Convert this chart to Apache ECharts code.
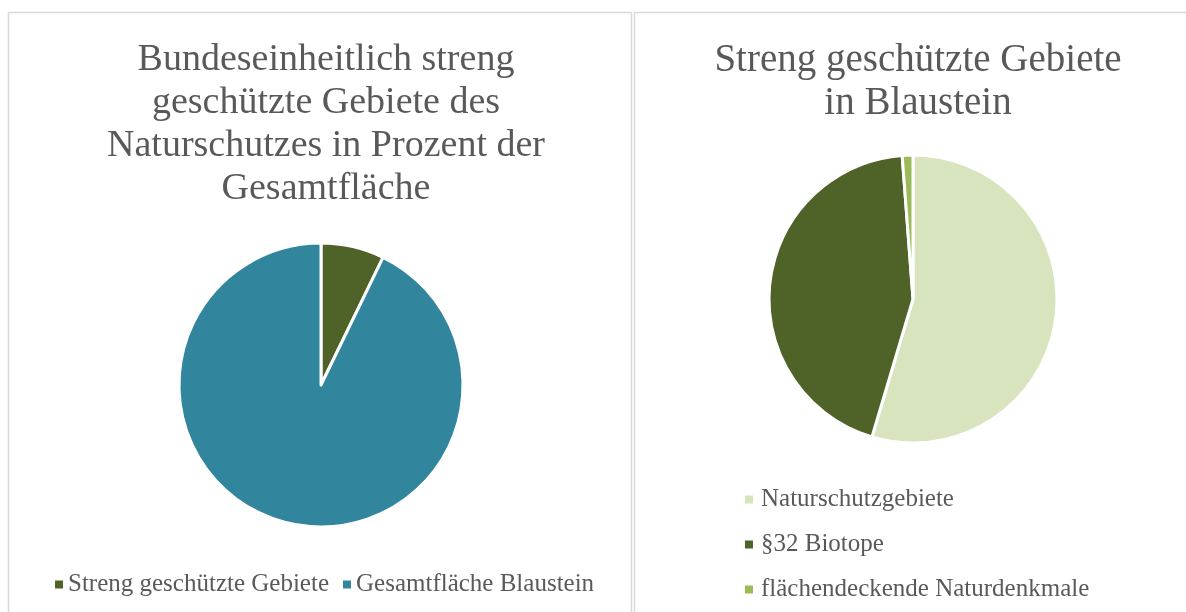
<!doctype html>
<html>
    <head>
        <meta charset="utf-8">
        <title>Streng geschützte Gebiete - Blaustein</title>
        <style>
            html, body { margin: 0; padding: 0; background: #fff; }
            #main { width: 1186px; height: 612px; }
        </style>
    </head>
    <body>
        <div id="main"></div>
        <script src="https://cdn.jsdelivr.net/npm/echarts@6/dist/echarts.min.js"></script>
        <script>
            // Anteile in Prozent
            var leftNames = ['Streng geschützte Gebiete', 'Gesamtfläche Blaustein'];
            var leftValues = [7.2, 92.8];
            var leftColors = ['#4f6228', '#31859c'];

            var rightNames = ['Naturschutzgebiete', '§32 Biotope', 'flächendeckende Naturdenkmale'];
            var rightValues = [54.6, 44.2, 1.2];
            var rightColors = ['#d7e4bd', '#4f6228', '#9bbb59'];

            var font = 'Liberation Serif';
            var gray = '#595959';

            function pieData(names, values, colors) {
                return names.map(function (n, i) {
                    return { name: n, value: values[i], itemStyle: { color: colors[i] } };
                });
            }

            var chart = echarts.init(document.getElementById('main'), null, {
                devicePixelRatio: 1
            });

            chart.setOption({
                backgroundColor: '#fff',
                animation: false,
                graphic: [
                    {
                        type: 'rect',
                        shape: { x: 8.5, y: 12.5, width: 623, height: 640 },
                        style: { fill: 'none', stroke: '#d9d9d9', lineWidth: 1.5 }
                    },
                    {
                        type: 'rect',
                        shape: { x: 634.5, y: 12.5, width: 600, height: 640 },
                        style: { fill: 'none', stroke: '#d9d9d9', lineWidth: 1.5 }
                    }
                ],
                title: [
                    {
                        text: 'Bundeseinheitlich streng\ngeschützte Gebiete des\nNaturschutzes in Prozent der\nGesamtfläche',
                        left: 321,
                        top: 34,
                        textAlign: 'center',
                        textStyle: {
                            fontFamily: font,
                            fontSize: 38,
                            fontWeight: 'normal',
                            lineHeight: 43,
                            color: gray
                        }
                    },
                    {
                        text: 'Streng geschützte Gebiete\nin Blaustein',
                        left: 913,
                        top: 34,
                        textAlign: 'center',
                        textStyle: {
                            fontFamily: font,
                            fontSize: 39,
                            fontWeight: 'normal',
                            lineHeight: 43,
                            color: gray
                        }
                    }
                ],
                legend: [
                    {
                        data: leftNames,
                        left: 50,
                        top: 567,
                        itemWidth: 8,
                        itemHeight: 8,
                        itemGap: 14,
                        icon: 'rect',
                        itemStyle: { borderWidth: 0 },
                        selectedMode: false,
                        textStyle: { fontFamily: font, fontSize: 25, color: gray }
                    },
                    {
                        data: rightNames,
                        orient: 'vertical',
                        left: 740,
                        top: 482,
                        itemWidth: 8,
                        itemHeight: 8,
                        itemGap: 20,
                        icon: 'rect',
                        itemStyle: { borderWidth: 0 },
                        selectedMode: false,
                        textStyle: { fontFamily: font, fontSize: 25, color: gray, padding: [0, 0, 0, 3] }
                    }
                ],
                series: [
                    {
                        type: 'pie',
                        center: [321, 385],
                        radius: 142,
                        startAngle: 90,
                        clockwise: true,
                        silent: true,
                        label: { show: false },
                        labelLine: { show: false },
                        itemStyle: { borderColor: '#fff', borderWidth: 3 },
                        data: pieData(leftNames, leftValues, leftColors)
                    },
                    {
                        type: 'pie',
                        center: [913, 299],
                        radius: 144,
                        startAngle: 90,
                        clockwise: true,
                        silent: true,
                        label: { show: false },
                        labelLine: { show: false },
                        itemStyle: { borderColor: '#fff', borderWidth: 3 },
                        data: pieData(rightNames, rightValues, rightColors)
                    }
                ]
            });

            window.onresize = chart.resize;
        </script>
    </body>
</html>
